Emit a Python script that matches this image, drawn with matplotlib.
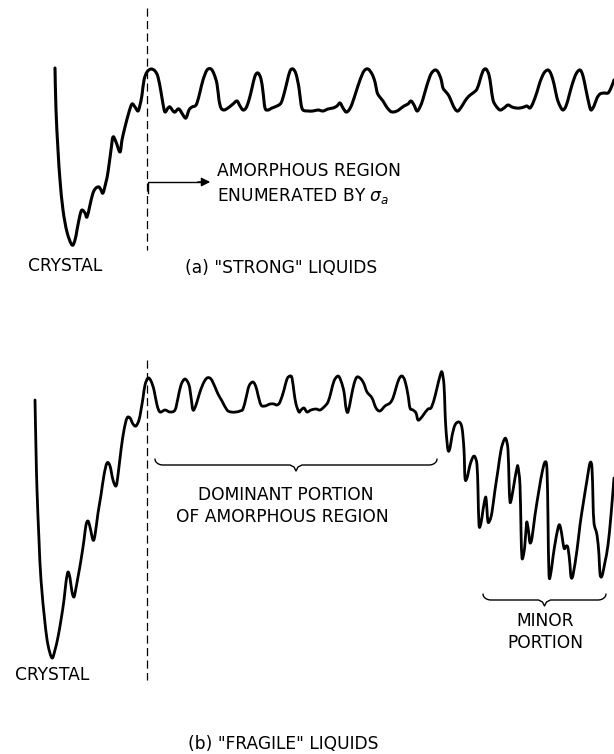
import numpy as np
import matplotlib
matplotlib.use('Agg')
import matplotlib.pyplot as plt
from matplotlib.path import Path
from matplotlib.patches import PathPatch

W, H = 614, 754

# (a) "strong" liquid landscape, traced in picture pixels (x right, y down)
strong_x = [55, 56, 58, 60, 63, 67, 72, 75, 77, 80, 82, 85, 87, 90, 93, 96, 99, 101, 103, 106,
            108, 111, 113, 116, 120, 122, 125, 129, 132, 135, 138, 140, 142, 144, 147, 151, 155, 158, 161, 163,
            165, 168, 170, 173, 175, 178, 180, 183, 186, 189, 192, 195, 197, 200, 203, 207, 211, 214, 217, 219,
            221, 224, 228, 233, 237, 240, 243, 246, 249, 252, 255, 258, 261, 263, 265, 268, 272, 277, 281, 284,
            287, 290, 293, 296, 299, 301, 303, 308, 313, 318, 323, 328, 333, 337, 340, 343, 346, 349, 352, 356,
            360, 364, 368, 372, 375, 377, 379, 383, 386, 390, 393, 397, 400, 404, 408, 411, 414, 417, 420, 423,
            427, 431, 435, 438, 441, 443, 446, 449, 452, 455, 458, 462, 465, 469, 473, 477, 480, 483, 486, 489,
            491, 493, 496, 500, 504, 508, 512, 516, 520, 524, 527, 530, 533, 537, 540, 544, 548, 551, 554, 557,
            560, 563, 566, 569, 572, 576, 580, 583, 586, 589, 591, 594, 597, 600, 604, 608, 611, 614]
strong_y = [68, 110, 150, 180, 210, 232, 245, 240, 230, 215, 210, 213, 217, 205, 193, 188, 187, 190, 193, 182,
            172, 150, 137, 142, 152, 140, 127, 112, 104, 107, 111, 105, 95, 80, 72, 69, 71, 77, 92, 104,
            112, 108, 107, 111, 112, 109, 110, 115, 118, 110, 107, 106, 103, 92, 80, 70, 69, 74, 84, 100,
            108, 110, 108, 104, 101, 106, 110, 108, 100, 88, 76, 73, 79, 92, 108, 110, 108, 106, 103, 94,
            82, 71, 69, 74, 88, 104, 110, 111, 111, 110, 111, 109, 108, 106, 103, 108, 112, 110, 104, 92,
            80, 71, 69, 74, 82, 92, 96, 101, 106, 111, 112, 111, 109, 106, 104, 101, 105, 111, 107, 99,
            85, 74, 70, 72, 79, 88, 92, 96, 103, 109, 111, 106, 101, 96, 93, 89, 80, 71, 69, 75,
            87, 100, 106, 110, 108, 105, 107, 108, 108, 107, 106, 108, 103, 92, 82, 73, 70, 74, 84, 98,
            106, 110, 106, 96, 85, 74, 70, 76, 90, 104, 110, 106, 98, 94, 93, 93, 88, 80]

# (b) "fragile" liquid landscape
fragile_x = [35, 36, 37, 39, 41, 45, 48, 52, 55, 58, 61, 64, 66, 68, 70, 72, 74, 76, 78, 81,
             84, 86, 88, 90, 93, 95, 98, 101, 104, 107, 110, 113, 116, 118, 121, 124, 127, 130, 133, 136,
             139, 141, 143, 145, 148, 151, 154, 157, 160, 165, 170, 175, 178, 181, 185, 189, 191, 193, 196, 199,
             203, 207, 211, 215, 218, 222, 227, 231, 236, 240, 243, 246, 249, 253, 256, 258, 261, 265, 270, 274,
             277, 280, 284, 287, 290, 292, 294, 296, 299, 301, 304, 307, 311, 316, 320, 324, 328, 331, 334, 338,
             341, 344, 346, 348, 351, 354, 357, 361, 364, 367, 372, 376, 380, 385, 390, 393, 396, 399, 402, 405,
             408, 410, 413, 416, 418, 421, 424, 428, 431, 434, 437, 440, 442, 444, 445, 446, 448, 450, 452, 455,
             459, 462, 464, 465, 467, 470, 473, 475, 477, 478, 479, 481, 483, 485, 486, 487, 488, 490, 492, 495,
             498, 501, 504, 506, 508, 509, 510, 512, 515, 517, 518, 520, 521, 522, 524, 525, 526, 527, 529, 530,
             532, 535, 539, 542, 545, 547, 548, 549, 551, 553, 556, 559, 561, 564, 566, 568, 570, 571, 573, 577,
             580, 583, 587, 590, 592, 593, 594, 597, 599, 600, 602, 605, 608, 611, 614]
fragile_y = [400, 450, 490, 540, 580, 623, 645, 658, 650, 637, 620, 600, 582, 572, 578, 592, 597, 588, 577, 560,
             540, 525, 521, 527, 540, 535, 513, 495, 475, 463, 466, 480, 486, 475, 450, 430, 418, 418, 424, 426,
             420, 410, 398, 385, 378, 381, 390, 405, 412, 410, 412, 410, 398, 385, 379, 385, 397, 410, 405, 395,
             384, 378, 379, 387, 394, 401, 410, 412, 412, 411, 409, 398, 386, 382, 387, 395, 405, 406, 404, 404,
             405, 402, 390, 379, 376, 378, 392, 404, 412, 410, 408, 412, 410, 409, 410, 407, 402, 392, 381, 376,
             381, 392, 408, 412, 398, 384, 377, 379, 384, 392, 398, 408, 411, 406, 403, 398, 388, 379, 376, 381,
             395, 408, 410, 413, 420, 418, 414, 409, 408, 400, 388, 376, 372, 385, 410, 430, 450, 448, 436, 425,
             422, 428, 450, 478, 478, 465, 457, 457, 465, 490, 525, 523, 510, 499, 498, 510, 522, 520, 512, 490,
             470, 450, 440, 439, 450, 480, 502, 496, 478, 468, 467, 485, 530, 558, 552, 543, 530, 522, 535, 543,
             538, 515, 490, 473, 462, 470, 520, 575, 572, 557, 538, 525, 530, 548, 546, 548, 565, 577, 575, 550,
             525, 505, 480, 463, 468, 500, 523, 535, 555, 574, 576, 562, 545, 515, 478]

# dashed separators: x, y_start, y_end
separators = [(147, 8, 250), (147, 360, 680)]

# braces: x_left, x_right, y
braces = [(155, 437, 465), (483, 606, 600)]

labels = [
    ('CRYSTAL', 65, 266),
    ('(a) "STRONG" LIQUIDS', 281, 268),
    ('AMORPHOUS REGION', 217, 171.5),
    ('ENUMERATED BY $\\sigma_a$', 217, 196),
    ('CRYSTAL', 52, 675),
    ('DOMINANT PORTION', 286, 495),
    ('OF AMORPHOUS REGION', 282, 517),
    ('MINOR', 545, 621),
    ('PORTION', 545, 643),
    ('(b) "FRAGILE" LIQUIDS', 283, 744),
]
left_aligned = {'AMORPHOUS REGION', 'ENUMERATED BY $\\sigma_a$'}


def smooth_path(xs, ys):
    # Catmull-Rom through the traced points, drawn as cubic Bezier segments
    p = np.column_stack([xs, ys]).astype(float)
    p = np.vstack([p[0], p, p[-1]])
    verts = [p[1]]
    codes = [Path.MOVETO]
    for i in range(1, len(p) - 2):
        c1 = p[i] + (p[i + 1] - p[i - 1]) / 6
        c2 = p[i + 1] - (p[i + 2] - p[i]) / 6
        verts += [c1, c2, p[i + 1]]
        codes += [Path.CURVE4] * 3
    return Path(verts, codes)


def brace(ax, x0, x1, y, h=6, lw=1.0):
    xm = (x0 + x1) / 2
    t = np.linspace(0, np.pi / 2, 10)
    xs = list(x0 + 8 * (1 - np.cos(t)))
    ys = list(y - h + h * np.sin(t))
    xs += [xm - 6, xm - 2, xm, xm + 2, xm + 6]
    ys += [y, y + 2, y + 6, y + 2, y]
    xs += list(x1 - 8 * (1 - np.cos(t[::-1])))
    ys += list(y - h + h * np.sin(t[::-1]))
    ax.plot(xs, ys, color='black', lw=lw, solid_joinstyle='round', solid_capstyle='round')


fig = plt.figure(figsize=(W / 100, H / 100), dpi=100)
ax = fig.add_axes([0, 0, 1, 1])
ax.set_xlim(0, W)
ax.set_ylim(H, 0)
ax.axis('off')

for xs, ys, lw in [(strong_x, strong_y, 2.2), (fragile_x, fragile_y, 2.0)]:
    ax.add_patch(PathPatch(smooth_path(xs, ys), fill=False, edgecolor='black', lw=lw,
                           joinstyle='round', capstyle='round'))

for x, y0, y1 in separators:
    ax.plot([x, x], [y0, y1], color='black', lw=0.9, linestyle=(0, (6.5, 3.5)))

# arrow into the amorphous region
ax.plot([148, 148, 200], [193, 182, 182], color='black', lw=1.0)
ax.annotate('', xy=(213, 182), xytext=(195, 182),
            arrowprops=dict(arrowstyle='-|>', color='black', lw=1.0, mutation_scale=13))

for x0, x1, y in braces:
    brace(ax, x0, x1, y)

for text, x, y in labels:
    ax.text(x, y, text, ha='left' if text in left_aligned else 'center', va='center',
            fontsize=12.3, family='DejaVu Sans', color='black')

fig.savefig('out.png', dpi=100)
